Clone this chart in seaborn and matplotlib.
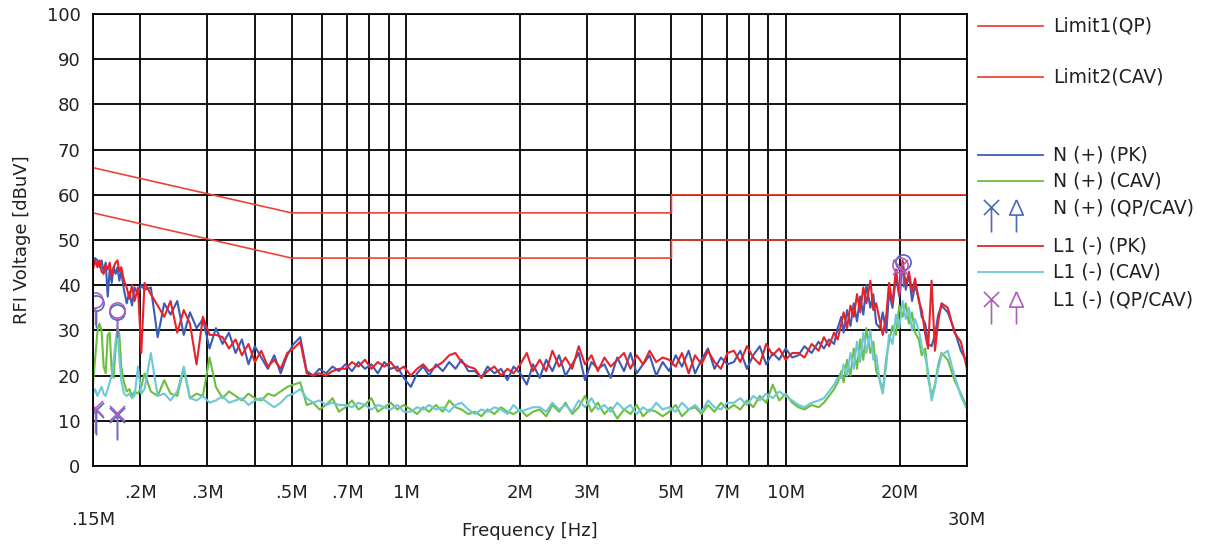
import matplotlib
matplotlib.use("Agg")
import matplotlib.pyplot as plt
from matplotlib.path import Path
from matplotlib.lines import Line2D
from matplotlib.ticker import NullLocator
import seaborn as sns

# frequency points of the traces [MHz]
freq_mhz = [
    0.150, 0.152, 0.154, 0.156, 0.158, 0.160, 0.162, 0.164, 0.166, 0.168, 0.170, 0.172,
    0.174, 0.176, 0.178, 0.181, 0.184, 0.187, 0.190, 0.193, 0.197, 0.201, 0.205,
    0.213, 0.222, 0.231, 0.240, 0.250, 0.260, 0.270, 0.281, 0.292, 0.304,
    0.316, 0.329, 0.342, 0.356, 0.370, 0.385, 0.400, 0.416, 0.433, 0.450,
    0.468, 0.487, 0.506, 0.527, 0.548, 0.570, 0.592, 0.616, 0.641, 0.666,
    0.693, 0.721, 0.750, 0.780, 0.811, 0.843, 0.877, 0.912, 0.949, 0.987,
    1.03, 1.07, 1.11, 1.15, 1.20, 1.25, 1.30, 1.35, 1.40, 1.46,
    1.52, 1.58, 1.64, 1.71, 1.78, 1.85, 1.92, 2.00, 2.08, 2.16,
    2.25, 2.34, 2.43, 2.53, 2.63, 2.74, 2.85, 2.96, 3.08, 3.20,
    3.33, 3.46, 3.60, 3.75, 3.90, 4.05, 4.21, 4.38, 4.56, 4.74,
    4.93, 5.13, 5.33, 5.55, 5.77, 6.00, 6.24, 6.49, 6.75, 7.02,
    7.30, 7.59, 7.90, 8.21, 8.54, 8.88, 9.24, 9.61, 9.99, 10.4,
    10.8, 11.2, 11.7, 12.2, 12.6, 13.0, 13.4, 13.7,
    14.0, 14.2, 14.5, 14.8, 15.1, 15.4, 15.7, 16.0, 16.3, 16.7, 17.0, 17.3,
    17.7, 18.0, 18.4, 18.7, 19.1, 19.5, 19.9, 20.3, 20.7, 21.1, 21.5, 21.9,
    22.4, 22.8, 23.3, 23.7, 24.2, 24.7, 25.2, 25.7, 26.7, 27.8, 28.9, 30.0,
]

n_pk = [
    44.5, 46.0, 45.5, 44.0, 45.5, 43.0, 45.0, 37.5, 43.5, 40.5, 44.0, 42.5,
    44.0, 41.0, 43.0, 39.0, 36.0, 38.5, 35.5, 39.5, 38.0, 40.0, 39.0,
    39.5, 28.5, 36.0, 33.5, 36.5, 29.0, 34.0, 30.5, 32.5, 26.0,
    30.5, 27.0, 29.5, 25.0, 28.0, 22.5, 26.5, 24.0, 21.5, 24.5,
    20.5, 24.5, 27.0, 28.5, 21.0, 20.0, 21.5, 20.5, 22.0, 21.0,
    22.5, 21.0, 23.0, 21.5, 22.5, 20.5, 23.0, 21.5, 22.0, 19.5,
    17.5, 20.5, 22.0, 20.0, 22.5, 21.0, 23.0, 21.5, 23.5, 21.0,
    21.0, 19.5, 22.0, 20.5, 21.5, 19.0, 22.0, 20.5, 18.0, 22.5,
    19.5, 23.5, 21.0, 24.5, 20.0, 22.5, 25.0, 19.0, 23.0, 21.5,
    22.5, 19.5, 24.0, 21.0, 25.0, 20.5, 22.5, 24.5, 20.0, 23.0,
    21.0, 24.5, 22.0, 25.5, 20.5, 23.5, 26.0, 21.5, 24.0, 22.5,
    23.0, 25.5, 21.5, 24.5, 26.5, 22.5, 25.0, 23.5, 26.0, 24.0,
    24.5, 26.5, 25.0, 27.5, 26.0, 28.0, 27.0, 30.5,
    33.0, 29.5, 34.5, 31.0, 36.0, 32.0, 37.5, 33.5, 40.0, 35.0, 38.0, 31.5,
    30.5, 34.0, 29.5, 38.5, 35.0, 42.0, 37.5, 44.5, 39.0, 42.5, 36.5, 40.0,
    37.0, 33.0, 31.5, 27.0, 26.5, 29.0, 33.5, 35.5, 34.0, 30.0, 25.5, 23.0,
]

l1_pk = [
    43.5, 45.5, 44.0, 45.5, 43.0, 42.5, 44.5, 43.5, 45.0, 42.0, 44.0, 45.0,
    45.5, 43.0, 44.0, 41.0, 39.5, 37.0, 40.0, 36.5, 39.5, 25.0, 40.5,
    38.0, 35.5, 33.0, 36.5, 29.5, 34.5, 31.5, 22.5, 33.0, 29.0,
    29.0, 28.5, 26.0, 28.0, 24.5, 27.0, 23.0, 25.5, 22.0, 23.5,
    21.5, 25.0, 26.0, 27.5, 20.5, 20.0, 20.5, 20.0, 21.0, 21.5,
    21.5, 23.0, 22.0, 23.5, 21.5, 23.0, 22.0, 23.0, 21.0, 22.0,
    20.0, 21.5, 22.5, 21.0, 22.0, 23.0, 24.5, 25.0, 23.0, 22.0,
    21.5, 19.5, 21.0, 22.0, 20.0, 21.5, 20.5, 22.5, 25.0, 21.0,
    23.5, 21.0, 25.5, 22.0, 24.0, 21.5, 26.5, 22.5, 24.5, 21.0,
    24.0, 22.0, 23.5, 25.0, 21.5, 24.5, 22.5, 25.5, 23.0, 24.0,
    23.5, 22.0, 25.0, 20.5, 24.5, 22.5, 25.5, 23.0, 21.5, 25.0,
    25.5, 23.0, 26.5, 24.0, 22.5, 27.0, 24.5, 26.0, 23.5, 25.0,
    25.0, 24.0, 27.0, 25.5, 28.5, 26.5, 29.5, 28.0,
    31.5, 34.0, 30.5, 35.5, 33.0, 38.0, 34.0, 39.5, 36.0, 41.0, 34.5, 36.0,
    32.0, 29.0, 33.5, 40.5, 36.0, 43.5, 38.0, 45.5, 40.0, 43.0, 38.5, 41.5,
    36.5, 34.5, 29.0, 26.0, 41.0, 25.5, 32.0, 36.0, 35.0, 29.5, 27.5, 21.5,
]

n_cav = [
    18.0, 24.0, 29.5, 31.5, 30.0, 22.0, 20.5, 29.0, 29.5, 21.0, 19.5, 26.0,
    30.5, 29.0, 22.0, 18.5, 16.5, 17.0, 15.5, 16.5, 16.0, 17.5, 20.5,
    16.5, 15.5, 19.0, 16.0, 15.5, 21.5, 15.0, 16.0, 15.5, 24.0,
    17.5, 15.0, 16.5, 15.5, 14.5, 16.0, 15.0, 14.5, 16.0, 15.5,
    16.5, 17.5, 18.0, 18.5, 13.5, 14.0, 12.5, 13.5, 15.0, 12.0,
    13.0, 14.5, 12.5, 13.5, 15.0, 12.0, 13.0, 14.0, 12.5, 13.5,
    12.5, 11.5, 13.0, 12.0, 13.5, 12.0, 14.5, 13.0, 12.5, 11.5,
    12.0, 11.0, 12.5, 11.5, 13.0, 12.0, 11.5, 12.5, 11.0, 12.0,
    12.5, 11.0, 13.5, 12.0, 14.0, 11.5, 13.0, 15.5, 12.0, 14.0,
    11.5, 13.0, 10.5, 12.5, 11.5, 13.5, 11.0, 12.5, 12.0, 11.0,
    12.0, 13.5, 11.0, 12.5, 13.0, 11.5, 13.5, 12.0, 14.0, 12.5,
    13.5, 12.5, 14.5, 13.0, 15.5, 14.0, 18.0, 14.5, 16.0, 14.0,
    13.0, 12.5, 13.5, 13.0, 14.0, 15.5, 17.0, 18.5,
    21.0, 18.5, 23.5, 20.0, 26.0, 21.5, 28.0, 23.5, 30.5, 25.0, 27.5, 21.0,
    19.0, 16.5, 24.0, 27.5, 31.0, 29.0, 35.5, 33.0, 36.0, 31.5, 34.0, 29.5,
    28.0, 24.5, 26.0, 19.5, 15.5, 18.0, 22.5, 25.0, 23.5, 19.0, 16.0, 13.0,
]

l1_cav = [
    16.0, 17.0, 15.5, 16.5, 17.5, 16.0, 15.5, 17.0, 18.5, 20.0, 23.5, 27.5,
    30.0, 24.0, 19.0, 16.0, 15.5, 16.0, 15.0, 15.5, 22.0, 16.0, 17.0,
    25.0, 15.5, 16.0, 14.5, 16.5, 22.0, 15.0, 14.5, 15.5, 14.0,
    14.5, 15.5, 14.0, 14.5, 15.0, 13.5, 14.5, 15.0, 14.0, 13.0,
    14.0, 15.5, 16.0, 17.0, 15.0, 14.0, 14.5, 13.5, 14.0, 13.5,
    13.5, 13.0, 14.0, 13.5, 12.5, 13.5, 13.0, 12.5, 13.5, 12.0,
    12.0, 13.0, 12.5, 13.5, 12.5, 13.0, 12.0, 13.5, 14.0, 12.5,
    11.5, 12.5, 12.0, 13.0, 12.5, 11.5, 13.5, 12.0, 12.5, 13.0,
    13.0, 12.0, 14.0, 12.5, 13.5, 12.0, 14.5, 13.0, 15.0, 12.5,
    13.5, 12.0, 14.0, 12.5, 13.5, 11.5, 13.0, 12.0, 14.0, 12.5,
    13.0, 12.0, 14.0, 12.5, 13.5, 12.0, 14.5, 13.0, 12.5, 14.0,
    14.0, 15.0, 13.5, 15.5, 14.5, 16.0, 15.0, 16.5, 15.5, 14.5,
    13.5, 13.0, 14.0, 14.5, 15.0, 16.5, 18.0, 19.5,
    19.5, 22.5, 20.0, 25.0, 21.5, 27.5, 23.0, 29.5, 25.0, 30.0, 23.5, 24.5,
    18.5, 16.0, 22.5, 29.0, 27.0, 33.5, 30.5, 36.5, 32.5, 35.0, 30.0, 32.5,
    30.0, 26.5, 24.0, 21.0, 14.5, 17.5, 21.5, 24.5, 25.5, 20.0, 15.5, 12.5,
]

# limit lines
limit_freq = [0.15, 0.5, 5, 5, 30]
limit_qp = [66, 56, 56, 60, 60]
limit_cav = [56, 46, 46, 50, 50]

# QP/CAV measurement markers
n_qp_freq = [0.153, 0.174, 20.3]
n_qp_level = [36.0, 34.0, 45.2]
n_cav_mark_freq = [0.153, 0.174]
n_cav_mark_level = [12.3, 11.3]
l1_qp_freq = [0.152, 0.174, 20.0]
l1_qp_level = [36.7, 34.6, 44.5]
l1_cav_mark_freq = [0.152, 0.174, 20.0]
l1_cav_mark_level = [12.8, 11.7, 44.0]

grid_freqs = [0.15, 0.2, 0.3, 0.4, 0.5, 0.6, 0.7, 0.8, 0.9, 1, 2, 3, 4, 5, 6, 7, 8, 9, 10, 20, 30]
grid_labels = ["\n.15M", ".2M", ".3M", "", ".5M", "", ".7M", "", "", "1M", "2M", "3M", "",
               "5M", "", "7M", "", "", "10M", "20M", "\n30M"]

c_limit = "#ec4436"
c_blue = "#3b5cb5"
c_green = "#6cbf3f"
c_red = "#e8222a"
c_cyan = "#6ec8d6"
c_purple = "#b05cb8"
c_bluemark = "#4a6ac0"

# custom marker shapes: cross with stem, circle with stem, open arrow
x_stem = Path([(-1, -1), (1, 1), (-1, 1), (1, -1), (0, 0), (0, -3.3)],
              [Path.MOVETO, Path.LINETO, Path.MOVETO, Path.LINETO, Path.MOVETO, Path.LINETO])
circ_stem = Path.make_compound_path(Path.unit_circle(),
                                    Path([(0, -1), (0, -3.3)], [Path.MOVETO, Path.LINETO]))
arrow_stem = Path([(0, 1), (-0.9, -1), (0.9, -1), (0, 1), (0, -1), (0, -3.3)],
                  [Path.MOVETO, Path.LINETO, Path.LINETO, Path.LINETO, Path.MOVETO, Path.LINETO])

W, H = 1219, 546
fig = plt.figure(figsize=(W / 100, H / 100), dpi=100)
ax = fig.add_axes([93 / W, 1 - 466 / H, 874 / W, 452 / H])

kw = dict(ax=ax, estimator=None, sort=False, legend=False)
sns.lineplot(x=limit_freq, y=limit_qp, color=c_limit, lw=1.2, **kw)
sns.lineplot(x=limit_freq, y=limit_cav, color=c_limit, lw=1.2, **kw)
sns.lineplot(x=freq_mhz, y=n_cav, color=c_green, lw=1.5, **kw)
sns.lineplot(x=freq_mhz, y=l1_cav, color=c_cyan, lw=1.5, **kw)
sns.lineplot(x=freq_mhz, y=n_pk, color=c_blue, lw=1.5, **kw)
sns.lineplot(x=freq_mhz, y=l1_pk, color=c_red, lw=1.5, **kw)

mk = dict(linestyle="none", markersize=36, markerfacecolor="none", markeredgewidth=1.2)
ax.plot(n_qp_freq, n_qp_level, marker=circ_stem, color=c_bluemark, **mk)
ax.plot(n_cav_mark_freq, n_cav_mark_level, marker=x_stem, color=c_bluemark, **mk)
ax.plot(l1_qp_freq, l1_qp_level, marker=circ_stem, color=c_purple, **mk)
ax.plot(l1_cav_mark_freq, l1_cav_mark_level, marker=x_stem, color=c_purple, **mk)

ax.set_xscale("log")
ax.set_xlim(0.15, 30)
ax.set_ylim(0, 100)
ax.set_xticks(grid_freqs)
ax.set_xticklabels(grid_labels)
ax.xaxis.set_minor_locator(NullLocator())
for t in ax.get_xticklabels():
    t.set_linespacing(1.65)
ax.set_yticks(range(0, 101, 10))
ax.tick_params(axis="both", length=0, labelsize=13, colors="#222222")
ax.tick_params(axis="x", pad=13)
ax.tick_params(axis="y", pad=9)
ax.grid(True, color="black", lw=1.3)
for s in ax.spines.values():
    s.set_color("black")
    s.set_linewidth(1.3)

ax.set_xlabel("Frequency [Hz]", fontsize=13, color="#222222")
ax.xaxis.set_label_coords(0.5, -0.124)
ax.set_ylabel("RFI Voltage [dBuV]", fontsize=13, color="#222222")
ax.yaxis.set_label_coords(-0.071, 0.5)

# legend panel on the right
def fx(px):
    return px / W

def fy(py):
    return 1 - py / H

legend_lines = [
    ("Limit1(QP)", c_limit, 26),
    ("Limit2(CAV)", c_limit, 77),
    ("N (+) (PK)", c_blue, 155),
    ("N (+) (CAV)", c_green, 181),
    ("L1 (-) (PK)", c_red, 246),
    ("L1 (-) (CAV)", c_cyan, 272),
]
for label, col, py in legend_lines:
    fig.add_artist(Line2D([fx(978), fx(1043)], [fy(py), fy(py)], color=col, lw=1.3,
                          transform=fig.transFigure))
    fig.text(fx(1053), fy(py), label, fontsize=13.5, va="center", color="#222222")

for label, col, py in [("N (+) (QP/CAV)", c_bluemark, 207), ("L1 (-) (QP/CAV)", c_purple, 299)]:
    fig.add_artist(Line2D([fx(991)], [fy(py)], marker=x_stem, color=col,
                          transform=fig.transFigure, **mk))
    fig.add_artist(Line2D([fx(1016)], [fy(py)], marker=arrow_stem, color=col,
                          transform=fig.transFigure, **mk))
    fig.text(fx(1053), fy(py + 1), label, fontsize=13.5, va="center", color="#222222")

fig.savefig("out.png", dpi=100)
